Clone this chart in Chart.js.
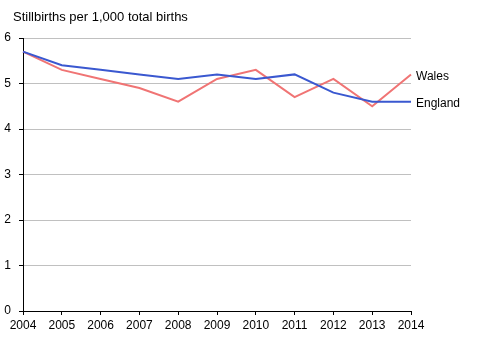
<!DOCTYPE html>
<html>
<head>
<meta charset="utf-8">
<script src="https://cdn.jsdelivr.net/npm/chart.js@4"></script>
<style>
html, body { margin: 0; padding: 0; background: #fff; }
#wrap { width: 492px; height: 337px; }
</style>
</head>
<body>
<div id="wrap"><canvas id="chart" width="492" height="337"></canvas></div>
<script>
/* data */
const years = ["2004", "2005", "2006", "2007", "2008", "2009", "2010", "2011", "2012", "2013", "2014"];
const england = [5.7, 5.4, 5.3, 5.2, 5.1, 5.2, 5.1, 5.2, 4.8, 4.6, 4.6];
const wales = [5.7, 5.3, 5.1, 4.9, 4.6, 5.1, 5.3, 4.7, 5.1, 4.5, 5.2];
const titleText = "Stillbirths per 1,000 total births";

const FONT = "'Liberation Sans', Arial, sans-serif";

/* title + end labels */
const labelsPlugin = {
  id: "labels",
  afterDraw(chart) {
    const ctx = chart.ctx;
    ctx.save();
    ctx.fillStyle = "#000";
    ctx.font = "13px " + FONT;
    ctx.textAlign = "left";
    ctx.textBaseline = "alphabetic";
    ctx.fillText(titleText, 13, 21);
    ctx.font = "12px " + FONT;
    ctx.textBaseline = "middle";
    chart.data.datasets.forEach((ds, i) => {
      const meta = chart.getDatasetMeta(i);
      const pt = meta.data[meta.data.length - 1];
      ctx.fillText(ds.label, pt.x + 5, pt.y + 2);
    });
    ctx.restore();
  }
};

new Chart(document.getElementById("chart"), {
  type: "line",
  data: {
    labels: years,
    datasets: [
      {
        label: "England",
        data: england,
        borderColor: "#3a58d0",
        borderWidth: 2,
        pointRadius: 0,
        tension: 0,
        fill: false
      },
      {
        label: "Wales",
        data: wales,
        borderColor: "#f07474",
        borderWidth: 2,
        pointRadius: 0,
        tension: 0,
        fill: false
      }
    ]
  },
  options: {
    responsive: false,
    animation: false,
    layout: { padding: { top: 38, right: 81, left: 0, bottom: 0 } },
    plugins: {
      legend: { display: false },
      tooltip: { enabled: false }
    },
    scales: {
      x: {
        offset: false,
        grid: {
          drawOnChartArea: false,
          drawTicks: true,
          tickLength: 4,
          tickColor: "#000"
        },
        border: { color: "#000", width: 1 },
        ticks: {
          color: "#000",
          font: { family: FONT, size: 12 },
          maxRotation: 0,
          autoSkip: false,
          padding: 3
        },
        afterFit(scale) { scale.height = 26; }
      },
      y: {
        min: 0,
        max: 6,
        grid: {
          color: "#c0c0c0",
          tickColor: "#000",
          tickLength: 4,
          lineWidth: 1
        },
        border: { color: "#000", width: 1 },
        ticks: {
          stepSize: 1,
          color: "#000",
          font: { family: FONT, size: 12 },
          padding: 8
        },
        afterFit(scale) { scale.width = 23; }
      }
    }
  },
  plugins: [labelsPlugin]
});
</script>
</body>
</html>
